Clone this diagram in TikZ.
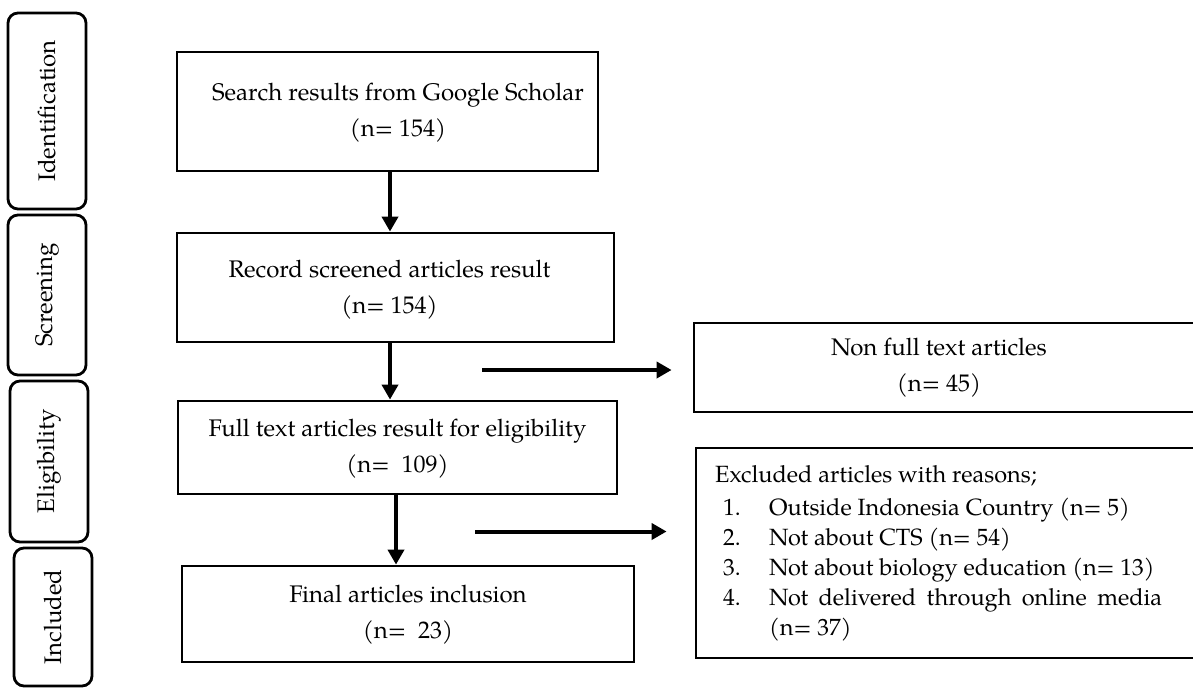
\documentclass[tikz,border=0pt]{standalone}
\usepackage{fontspec}
\setmainfont{TeX Gyre Pagella}
\usetikzlibrary{arrows.meta}
\newcommand\flowfont{\fontsize{24}{36}\selectfont}
\newcommand\listfont{\fontsize{23.5}{30}\selectfont}
\begin{document}
\begin{tikzpicture}[x=1pt,y=-1pt,
  stage/.style={draw, line width=2.8pt, rounded corners=10pt, inner sep=0pt,
    rotate=90, font=\flowfont},
  box/.style={draw, line width=2.8pt, inner sep=0pt},
  boxtext/.style={align=center, font=\flowfont, inner sep=0pt},
  flow/.style={line width=4pt, -{Triangle[length=15pt,width=16pt]}}]
\useasboundingbox (0,0) rectangle (1193,688);

% stage labels on the left
\node[stage, minimum width=196pt, minimum height=78pt] (ident) at (47,111) {Identification};
\node[stage, minimum width=160pt, minimum height=78pt] (screen) at (47,295) {Screening};
\node[stage, minimum width=161pt, minimum height=78pt] (elig) at (49,461.5) {Eligibility};
\node[stage, minimum width=138pt, minimum height=78pt] (incl) at (53,617) {Included};

% main flow boxes
\node[box, minimum width=421pt, minimum height=119pt] (search) at (387.5,111.5) {};
\node[boxtext] (searchtxt) at (398,113) {Search results from Google Scholar\\(n= 154)};

\node[box, minimum width=437pt, minimum height=109pt] (record) at (395.5,287.5) {};
\node[boxtext] (recordtxt) at (389.5,289.5) {Record screened articles result\\(n= 154)};

\node[box, minimum width=439pt, minimum height=93pt] (full) at (397.5,447.5) {};
\node[boxtext] (fulltxt) at (397.5,449) {Full text articles result for eligibility\\(n=~~109)};

\node[box, minimum width=452pt, minimum height=96pt] (final) at (408,614) {};
\node[boxtext] (finaltxt) at (408,615) {Final articles inclusion\\(n=~~23)};

% exclusion boxes on the right
\node[box, minimum width=509pt, minimum height=89pt] (nonfull) at (948.5,367.5) {};
\node[boxtext] (nonfulltxt) at (939,368) {Non full text articles\\(n= 45)};

\node[box, minimum width=507pt, minimum height=210pt] (excl) at (949.5,553) {};
\node[anchor=base west, inner sep=0pt, font=\listfont] (excltxt) at (715,482) {%
  \begin{tabular}[t]{@{}l@{}}
  Excluded articles with reasons;\\[3pt]
  \hspace*{8pt}\makebox[46pt][l]{1.}Outside Indonesia Country (n= 5)\\
  \hspace*{8pt}\makebox[46pt][l]{2.}Not about CTS (n= 54)\\
  \hspace*{8pt}\makebox[46pt][l]{3.}Not about biology education (n= 13)\\
  \hspace*{8pt}\makebox[46pt][l]{4.}\makebox[393pt][s]{Not delivered through online media}\\
  \hspace*{54pt}(n= 37)
  \end{tabular}};

% connectors
\draw[flow] ([xshift=2.5pt]search.south) -- ([xshift=-5.5pt]record.north);
\draw[flow] ([xshift=-5.5pt]record.south) -- ([xshift=-7.5pt]full.north);
\draw[flow] ([xshift=-1.5pt]full.south) -- ([xshift=-12pt]final.north);

\coordinate (side1) at (482,370);
\coordinate (side2) at (475,531.5);
\draw[flow] (side1) -- ([xshift=-21pt]nonfull.west |- side1);
\draw[flow] (side2) -- ([xshift=-28pt]excl.west |- side2);
\end{tikzpicture}
\end{document}
